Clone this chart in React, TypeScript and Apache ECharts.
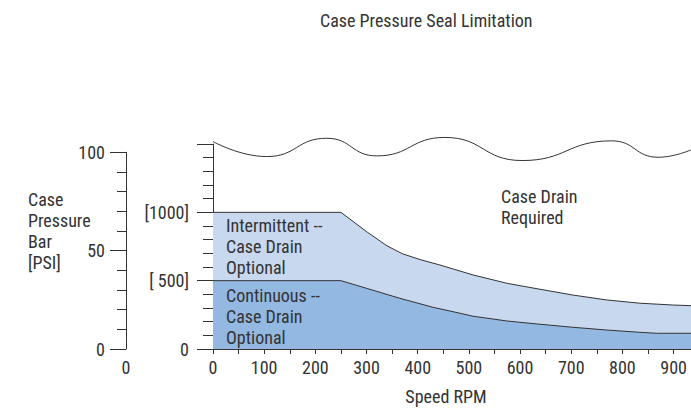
import React, { useEffect, useRef } from "react";
import * as echarts from "echarts";

const FONT = "'Roboto Condensed', 'Liberation Sans Narrow', 'DejaVu Sans Condensed', sans-serif";
const TEXT = "#333333";
const FS = 18;

const title = "Case Pressure Seal Limitation";
const xAxisName = "Speed RPM";
const yAxisTitle = "Case\nPressure\nBar\n[PSI]";
const psiTickLabels: Record<number, string> = { 0: "0", 500: "[ 500]", 1000: "[1000]", 1500: "" };
const barTickLabels = [0, 50, 100];

// [RPM, PSI]
const intermittentLimit: [number, number][] = [
  [0, 1000], [250, 1000], [300, 859], [340, 755], [370, 697], [405, 654], [443, 615], [508, 542],
  [574, 481], [639, 437], [703, 395], [769, 359], [834, 335], [898, 322], [934, 317],
];
const continuousLimit: [number, number][] = [
  [0, 500], [250, 500], [300, 444], [365, 371], [430, 305], [463, 278], [508, 240],
  [574, 205], [639, 181], [703, 159], [769, 139], [834, 122], [867, 115], [934, 115],
];
const breakLine: [number, number][] = [
  [0, 1518], [105, 1408], [222, 1542], [320, 1413], [453, 1548], [604, 1379],
  [779, 1523], [870, 1403], [934, 1457],
];

const regionLabels = [
  { text: "Intermittent --\nCase Drain\nOptional", x: 226, y: 215 },
  { text: "Continuous --\nCase Drain\nOptional", x: 226, y: 285 },
  { text: "Case Drain\nRequired", x: 501, y: 186 },
];

export default function App() {
  const ref = useRef<HTMLDivElement>(null);
  useEffect(() => {
    const chart = echarts.init(ref.current!, null, { renderer: "svg" });
    const axisCol = "#333333";
    const lbl = { fontFamily: FONT, fontSize: FS, color: TEXT };
    chart.setOption({
      animation: false,
      backgroundColor: "#ffffff",
      textStyle: { fontFamily: FONT, color: TEXT },
      title: {
        text: title,
        left: 315,
        top: 6,
        textStyle: { ...lbl, fontWeight: "normal" },
      },
      grid: [
        { left: 213, right: 0, top: 144, bottom: 64 },
        { left: 126, width: 1, top: 152.3, bottom: 64 },
      ],
      xAxis: [
        {
          gridIndex: 0,
          type: "value",
          min: 0,
          max: 934,
          interval: 50,
          name: xAxisName,
          nameLocation: "middle",
          nameGap: 38,
          nameTextStyle: { ...lbl, padding: [0, 12, 0, 0] },
          axisLine: { show: true, lineStyle: { color: axisCol, width: 1 } },
          axisTick: { show: true, length: 5, lineStyle: { color: axisCol } },
          axisLabel: {
            ...lbl,
            margin: 9,
            showMaxLabel: false,
            formatter: (v: number) => (v % 100 === 0 ? String(v) : ""),
          },
          splitLine: { show: false },
        },
        {
          gridIndex: 1,
          type: "value",
          min: 0,
          max: 1,
          interval: 1,
          axisLine: { show: false },
          axisTick: { show: false },
          axisLabel: {
            ...lbl,
            margin: 9,
            formatter: (v: number) => (v === 0 ? "0" : ""),
          },
          splitLine: { show: false },
        },
      ],
      yAxis: [
        {
          gridIndex: 0,
          type: "value",
          min: 0,
          max: 1500,
          interval: 500,
          axisLine: { show: true, lineStyle: { color: axisCol, width: 1 } },
          axisTick: { show: true, length: 16, lineStyle: { color: axisCol } },
          minorTick: { show: true, splitNumber: 5, length: 10, lineStyle: { color: axisCol } },
          axisLabel: {
            ...lbl,
            margin: 24,
            formatter: (v: number) => psiTickLabels[v] ?? "",
          },
          splitLine: { show: false },
          minorSplitLine: { show: false },
        },
        {
          gridIndex: 1,
          type: "value",
          min: 0,
          max: 100,
          interval: 50,
          axisLine: { show: true, lineStyle: { color: axisCol, width: 1 } },
          axisTick: { show: true, length: 16, lineStyle: { color: axisCol } },
          minorTick: { show: true, splitNumber: 5, length: 9, lineStyle: { color: axisCol } },
          axisLabel: {
            ...lbl,
            margin: 21,
            formatter: (v: number) => (barTickLabels.includes(v) ? String(v) : ""),
          },
          splitLine: { show: false },
          minorSplitLine: { show: false },
        },
      ],
      series: [
        {
          type: "line",
          name: "Intermittent",
          xAxisIndex: 0,
          yAxisIndex: 0,
          data: intermittentLimit,
          symbol: "none",
          smooth: false,
          lineStyle: { color: "#333333", width: 1 },
          areaStyle: { color: "#c8d8ef", opacity: 1 },
          z: 2,
        },
        {
          type: "line",
          name: "Continuous",
          xAxisIndex: 0,
          yAxisIndex: 0,
          data: continuousLimit,
          symbol: "none",
          smooth: false,
          lineStyle: { color: "#333333", width: 1 },
          areaStyle: { color: "#93b8e2", opacity: 1 },
          z: 3,
        },
        {
          type: "line",
          name: "Break",
          xAxisIndex: 0,
          yAxisIndex: 0,
          data: breakLine,
          symbol: "none",
          smooth: 0.5,
          clip: false,
          lineStyle: { color: "#333333", width: 1 },
          z: 3,
        },
      ],
      graphic: [
        {
          type: "text",
          left: 28,
          top: 189,
          style: { text: yAxisTitle, fontFamily: FONT, fontSize: FS, lineHeight: 21, fill: TEXT },
        },
        ...regionLabels.map((l) => ({
          type: "text",
          left: l.x,
          top: l.y,
          z: 10,
          style: { text: l.text, fontFamily: FONT, fontSize: FS, lineHeight: 21, fill: TEXT },
        })),
      ],
    });
    return () => chart.dispose();
  }, []);
  return <div ref={ref} style={{ position: "fixed", left: 0, top: 0, width: 691, height: 413 }} />;
}
